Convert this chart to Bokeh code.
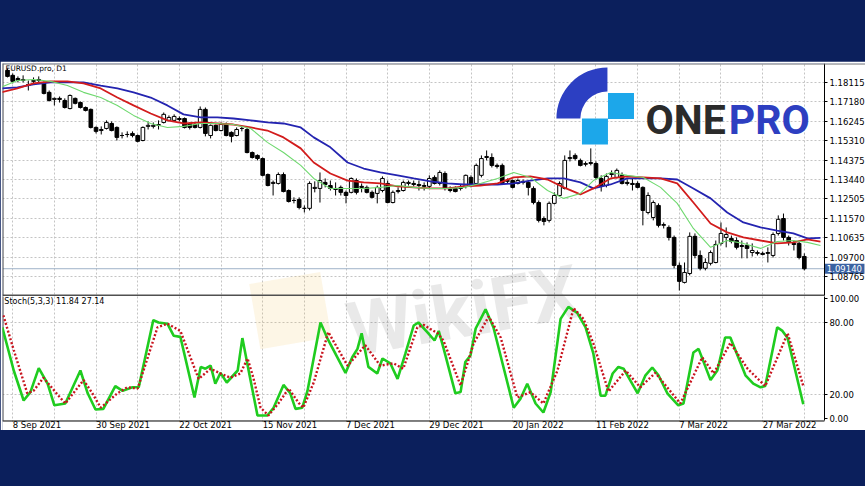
import math
from bokeh.plotting import figure
from bokeh.layouts import column
from bokeh.models import (ColumnDataSource, FixedTicker, PrintfTickFormatter, Span,
                          Label, Range1d, Spacer, LinearAxis, Grid, BoxAnnotation)
from bokeh.core.properties import value
from bokeh.embed import file_html
from bokeh.resources import INLINE

# ---------------- data (EURUSD.pro, D1) ----------------
opens = [1.1870,1.1846,1.1831,1.1821,1.1802,1.1817,1.1826,1.1807,1.1764,1.1730,
         1.1735,1.1725,1.1686,1.1735,1.1715,1.1691,1.1682,1.1595,1.1580,1.1590,
         1.1614,1.1595,1.1556,1.1561,1.1566,1.1556,1.1532,1.1600,1.1600,1.1605,
         1.1619,1.1629,1.1629,1.1638,1.1638,1.1614,1.1609,1.1595,1.1682,1.1556,
         1.1605,1.1580,1.1609,1.1571,1.1556,1.1590,1.1585,1.1474,1.1460,1.1445,
         1.1368,1.1325,1.1325,1.1368,1.1291,1.1243,1.1248,1.1205,1.1205,1.1301,
         1.1301,1.1330,1.1315,1.1301,1.1306,1.1282,1.1282,1.1339,1.1311,1.1306,
         1.1282,1.1277,1.1291,1.1325,1.1233,1.1286,1.1291,1.1325,1.1325,1.1320,
         1.1315,1.1311,1.1354,1.1325,1.1373,1.1296,1.1301,1.1306,1.1311,1.1354,
         1.1325,1.1364,1.1450,1.1450,1.1412,1.1412,1.1335,1.1339,1.1325,1.1335,
         1.1330,1.1301,1.1233,1.1156,1.1147,1.1229,1.1267,1.1301,1.1445,1.1460,
         1.1436,1.1417,1.1421,1.1421,1.1349,1.1315,1.1368,1.1354,1.1364,1.1330,
         1.1325,1.1325,1.1306,1.1185,1.1161,1.1219,1.1123,1.1113,1.1065,1.0930,
         1.0848,1.0891,1.1070,1.0978,1.0916,1.0940,1.0944,1.1036,1.1065,1.1060,
         1.1050,1.1026,1.1026,1.0992,1.0992,1.0988,1.0992,1.0978,1.1084,1.1156,
         1.1065,1.1036,1.1036,1.0973]
highs = [1.1879,1.1855,1.1841,1.1846,1.1821,1.1836,1.1841,1.1817,1.1773,1.1739,
         1.1744,1.1735,1.1754,1.1739,1.1720,1.1696,1.1686,1.1600,1.1600,1.1629,
         1.1624,1.1600,1.1571,1.1576,1.1576,1.1561,1.1600,1.1624,1.1619,1.1629,
         1.1667,1.1653,1.1658,1.1648,1.1643,1.1619,1.1619,1.1696,1.1691,1.1609,
         1.1609,1.1619,1.1619,1.1576,1.1595,1.1600,1.1595,1.1479,1.1465,1.1450,
         1.1373,1.1339,1.1378,1.1378,1.1296,1.1258,1.1258,1.1219,1.1335,1.1335,
         1.1378,1.1349,1.1339,1.1330,1.1315,1.1291,1.1354,1.1349,1.1325,1.1315,
         1.1291,1.1315,1.1359,1.1339,1.1291,1.1306,1.1339,1.1339,1.1339,1.1339,
         1.1330,1.1364,1.1364,1.1388,1.1383,1.1311,1.1311,1.1320,1.1368,1.1364,
         1.1421,1.1460,1.1484,1.1470,1.1421,1.1421,1.1349,1.1344,1.1349,1.1344,
         1.1339,1.1311,1.1243,1.1166,1.1238,1.1282,1.1335,1.1460,1.1484,1.1470,
         1.1445,1.1431,1.1494,1.1431,1.1364,1.1373,1.1388,1.1397,1.1378,1.1344,
         1.1349,1.1335,1.1311,1.1282,1.1243,1.1229,1.1137,1.1123,1.1074,1.0944,
         1.0944,1.1089,1.1084,1.1002,1.0964,1.1002,1.1050,1.1137,1.1113,1.1074,
         1.1065,1.1050,1.1041,1.1036,1.1002,1.0997,1.1017,1.1089,1.1171,1.1180,
         1.1074,1.1050,1.1050,1.0988]
lows = [1.1836,1.1807,1.1812,1.1812,1.1773,1.1802,1.1812,1.1754,1.1720,1.1701,
        1.1715,1.1686,1.1682,1.1706,1.1686,1.1672,1.1590,1.1566,1.1561,1.1585,
        1.1576,1.1532,1.1542,1.1547,1.1547,1.1523,1.1528,1.1585,1.1590,1.1585,
        1.1614,1.1624,1.1624,1.1624,1.1590,1.1585,1.1590,1.1590,1.1552,1.1542,
        1.1576,1.1576,1.1552,1.1523,1.1552,1.1576,1.1470,1.1445,1.1436,1.1359,
        1.1311,1.1267,1.1320,1.1282,1.1233,1.1229,1.1200,1.1185,1.1195,1.1282,
        1.1233,1.1306,1.1291,1.1267,1.1267,1.1229,1.1277,1.1272,1.1282,1.1277,
        1.1253,1.1229,1.1282,1.1229,1.1229,1.1277,1.1286,1.1315,1.1311,1.1291,
        1.1291,1.1301,1.1320,1.1315,1.1291,1.1282,1.1282,1.1291,1.1301,1.1306,
        1.1315,1.1354,1.1436,1.1402,1.1397,1.1320,1.1325,1.1301,1.1320,1.1320,
        1.1267,1.1224,1.1137,1.1123,1.1137,1.1224,1.1262,1.1296,1.1431,1.1436,
        1.1407,1.1407,1.1412,1.1344,1.1286,1.1306,1.1354,1.1349,1.1320,1.1315,
        1.1291,1.1301,1.1123,1.1176,1.1147,1.1113,1.1108,1.1050,1.0916,1.0809,
        1.0843,1.0882,1.0964,1.0906,1.0906,1.0930,1.0940,1.1026,1.1017,1.1036,
        1.1007,1.0964,1.0964,1.0973,1.0978,1.0978,1.0944,1.0968,1.1074,1.1050,
        1.1026,1.1002,1.0959,1.0906]
closes = [1.1841,1.1817,1.1821,1.1826,1.1797,1.1821,1.1821,1.1759,1.1725,1.1735,
          1.1730,1.1691,1.1749,1.1711,1.1691,1.1677,1.1595,1.1576,1.1585,1.1619,
          1.1580,1.1547,1.1556,1.1561,1.1556,1.1528,1.1595,1.1605,1.1605,1.1609,
          1.1658,1.1643,1.1648,1.1633,1.1595,1.1595,1.1595,1.1682,1.1566,1.1605,
          1.1580,1.1609,1.1556,1.1552,1.1585,1.1590,1.1474,1.1450,1.1445,1.1364,
          1.1315,1.1330,1.1368,1.1286,1.1238,1.1243,1.1209,1.1205,1.1325,1.1306,
          1.1339,1.1320,1.1301,1.1296,1.1282,1.1267,1.1349,1.1282,1.1306,1.1282,
          1.1258,1.1306,1.1349,1.1233,1.1282,1.1291,1.1330,1.1330,1.1320,1.1315,
          1.1311,1.1349,1.1325,1.1378,1.1301,1.1291,1.1286,1.1301,1.1364,1.1315,
          1.1412,1.1445,1.1455,1.1412,1.1407,1.1325,1.1339,1.1306,1.1339,1.1330,
          1.1306,1.1233,1.1147,1.1142,1.1229,1.1267,1.1325,1.1436,1.1450,1.1445,
          1.1412,1.1421,1.1426,1.1354,1.1311,1.1359,1.1373,1.1388,1.1325,1.1325,
          1.1320,1.1306,1.1195,1.1267,1.1233,1.1123,1.1127,1.1065,1.0930,1.0853,
          1.0896,1.1070,1.0978,1.0916,1.0944,1.0992,1.1031,1.1084,1.1079,1.1045,
          1.1017,1.1021,1.1012,1.1002,1.0988,1.0983,1.0988,1.1079,1.1152,1.1065,
          1.1041,1.1031,1.0968,1.0914]

# moving averages (bar position, price)
ma_x = [-1.3,1.9,5.0,8.3,11.5,14.6,17.9,21.1,24.2,27.5,30.7,33.8,37.1,40.3,43.4,46.7,
        49.9,53.0,56.3,58.8,62.0,65.3,68.4,71.6,74.9,78.0,81.2,84.5,87.6,90.8,94.1,
        97.2,100.4,103.7,106.8,110.0,112.5,115.8,119.0,122.1,125.4,128.6,131.7,135.0,
        138.2,141.3,144.6,147.8,150.9,153.6,156.1]
ma_blue = [1.1783,1.1788,1.1802,1.1812,1.1812,1.1812,1.1797,1.1783,1.1764,1.1739,1.1701,
           1.1658,1.1643,1.1643,1.1638,1.1629,1.1619,1.1614,1.1595,1.1547,1.1499,1.1426,
           1.1397,1.1378,1.1364,1.1349,1.1335,1.1325,1.1320,1.1320,1.1320,1.1325,1.1339,
           1.1349,1.1349,1.1330,1.1301,1.1320,1.1349,1.1349,1.1349,1.1344,1.1301,1.1253,
           1.1185,1.1137,1.1113,1.1098,1.1084,1.1060,1.1063]
ma_red = [1.1764,1.1783,1.1807,1.1817,1.1817,1.1807,1.1783,1.1739,1.1701,1.1662,1.1629,
          1.1614,1.1619,1.1614,1.1609,1.1595,1.1580,1.1547,1.1494,1.1426,1.1373,1.1339,
          1.1330,1.1325,1.1311,1.1306,1.1301,1.1301,1.1311,1.1315,1.1325,1.1354,1.1359,
          1.1344,1.1306,1.1272,1.1301,1.1349,1.1359,1.1354,1.1349,1.1325,1.1233,1.1132,
          1.1089,1.1065,1.1050,1.1036,1.1041,1.1055,1.1045]
ma_green = [1.1788,1.1821,1.1826,1.1817,1.1797,1.1764,1.1739,1.1701,1.1653,1.1614,1.1595,
            1.1600,1.1614,1.1614,1.1609,1.1590,1.1523,1.1474,1.1412,1.1349,1.1301,1.1301,
            1.1301,1.1306,1.1315,1.1306,1.1301,1.1301,1.1306,1.1325,1.1349,1.1378,1.1354,
            1.1291,1.1253,1.1277,1.1339,1.1378,1.1364,1.1354,1.1306,1.1229,1.1108,1.1017,
            1.1050,1.1036,1.1012,1.1045,1.1050,1.1041,1.1026]

# Stochastic (5,3,3): main (%K) and signal (%D)
k_x = [-1.0,1.2,3.1,4.4,6.0,7.7,9.0,11.1,14.0,15.4,16.9,18.4,20.7,22.1,24.0,25.2,28.0,
       29.0,30.7,31.9,33.2,35.9,37.1,38.0,39.0,39.9,40.9,42.1,44.2,45.1,46.3,48.0,49.9,
       51.1,53.0,54.3,55.3,56.6,57.6,60.1,61.4,64.9,66.2,67.2,68.0,69.3,71.0,72.0,73.5,
       74.9,76.4,78.0,78.9,80.6,82.0,82.8,83.7,86.0,87.0,87.9,88.9,89.9,91.8,93.3,97.2,
       98.5,99.8,101.4,102.9,104.3,106.2,107.7,109.4,111.0,112.5,113.9,114.8,116.2,117.3,
       118.3,121.0,122.5,123.8,125.0,126.7,128.8,129.8,131.7,132.7,135.0,136.3,137.8,
       138.8,141.7,143.2,144.6,145.5,147.8,148.8,149.8,152.8]
k_v = [76,40,15,22,42,29,11,12.5,40,21,7.5,8,27,23,26,26,82,80,79,69,68,17.5,43,41.5,44,
       29,38,30,40,67,40,2.5,2.5,9,28,21,8,9,23,80,67,38,51,58,71,43,37.5,50,46,33,54,
       77.5,80,72,65,73,59,21,22,47,52.5,75,91,76,9,16.5,29,12.5,5,22,83,93,88,76,54,19,
       19,37.5,43,41.5,21,36,42.5,36,21,11,12.5,55,58,32,40,67.5,67.5,36,29,26,27,76,73,
       67,11.84]
d_x = [-0.8,1.2,3.8,5.0,6.9,9.8,11.1,14.6,16.3,17.9,21.1,23.0,25.0,28.8,30.7,33.2,34.6,
       36.7,39.0,40.9,42.8,44.7,46.1,47.2,48.6,50.1,52.0,54.0,55.9,56.8,58.8,61.6,65.3,
       68.7,71.6,74.1,76.0,78.7,79.9,82.6,83.7,87.0,89.5,92.4,94.7,97.9,100.4,102.9,
       105.6,108.7,110.6,112.5,115.4,118.7,121.5,124.4,129.2,133.4,135.6,138.8,142.1,
       145.5,149.8,152.8]
d_v = [86,57,21,23,34,19,12.5,32,21,9,21,26,25,76,79,73,57,33,41.5,37.5,34,37.5,50,34,9,
       2.5,12.5,25,13,9,30,72,44,61,44,46,41.5,76,78,71,65,27.5,62.5,85,67.5,17.5,22,12.5,
       40,92,83,62.5,22.5,40,26,38,12.5,51,37.5,63,41.5,27,71,27.14]

price_ticks = [1.08765, 1.09700, 1.10635, 1.11570, 1.12505, 1.13440,
               1.14375, 1.15310, 1.16245, 1.17180, 1.18115]
last_price = 1.09140
stoch_ticks = [0, 20, 80, 100]
date_ticks = [1, 17, 33, 49, 65, 81, 97, 113, 129, 145]
date_labels = ["8 Sep 2021", "30 Sep 2021", "22 Oct 2021", "15 Nov 2021", "7 Dec 2021",
               "29 Dec 2021", "20 Jan 2022", "11 Feb 2022", "7 Mar 2022", "27 Mar 2022"]
grid_ticks = list(range(1, 154, 8))

# ---------------- layout constants (screen geometry) ----------------
NAVY = "#0b1f5c"
FONT = "DejaVu Sans"
GRID = "#c4c4c4"
X0 = -0.96                 # left edge of the chart
LEFT_LINE = -0.864         # left border line
AXIS_X = 156.87            # bar position of the price/stoch scale line
PRICE_LO, PRICE_HI = 1.07849, 1.19031      # price panel extent
STOCH_LO, STOCH_HI = -2.08, 101.67         # stoch panel extent

p = figure(frame_width=863, frame_height=367,
           x_range=Range1d(X0, 164.75), y_range=Range1d(1.01343, 1.19031),
           x_axis_location=None, y_axis_location=None,
           output_backend="svg", toolbar_location=None,
           min_border_left=2, min_border_right=0, min_border_top=2, min_border_bottom=0)
p.extra_y_ranges = {"stoch": Range1d(-10.0, 295.83)}
p.border_fill_color = "white"
p.background_fill_color = "white"
p.outline_line_color = None

# grids
p.xgrid.ticker = FixedTicker(ticks=grid_ticks)
p.ygrid.ticker = FixedTicker(ticks=price_ticks)
sgrid = Grid(dimension=1, ticker=FixedTicker(ticks=[20, 80]), y_range_name="stoch")
p.add_layout(sgrid)
for g in (p.xgrid[0], p.ygrid[0], sgrid):
    g.grid_line_color = GRID
    g.grid_line_dash = "2 2"
    g.grid_line_width = 1

# covers (underlay) that keep the grid out of the scale and date-label strips
p.add_layout(BoxAnnotation(left=AXIS_X, fill_color="white", fill_alpha=1,
                           line_color=None, level="underlay"))
p.add_layout(BoxAnnotation(top=-2.67, y_range_name="stoch", fill_color="white",
                           fill_alpha=1, line_color=None, level="underlay"))
p.add_layout(Span(location=1.19007, dimension="width", line_color="#6a6a6a", line_width=1))

# watermark
p.rect(x=[54.3], y=[1.07126], width=72, height=66, width_units="screen",
       height_units="screen", angle=0.17, fill_color="#f2c14e", fill_alpha=0.14,
       line_color=None)
p.text(x=[65.3], y=[1.06162], text=["WikiFX"], angle=0.17, text_font=value("Roboto"),
       text_font_style="bold", text_font_size="75px", text_color="#000000",
       text_alpha=0.085, text_baseline="alphabetic", text_align="left")

# frame lines, ending at the scale line
p.segment(x0=[X0], y0=[last_price], x1=[AXIS_X], y1=[last_price],
          line_color="#9fb2c8", line_width=1)
p.segment(x0=[X0], y0=[1.07859], x1=[AXIS_X], y1=[1.07859],
          line_color="#505050", line_width=1.6)
p.segment(x0=[X0], y0=[STOCH_LO], x1=[AXIS_X], y1=[STOCH_LO], y_range_name="stoch",
          line_color="black", line_width=1)
p.segment(x0=[LEFT_LINE], y0=[PRICE_LO], x1=[LEFT_LINE], y1=[PRICE_HI],
          line_color="#3c3c3c", line_width=1)
p.segment(x0=[LEFT_LINE], y0=[STOCH_LO], x1=[LEFT_LINE], y1=[STOCH_HI],
          y_range_name="stoch", line_color="#3c3c3c", line_width=1)

# candles
bull = [c > o for o, c in zip(opens, closes)]
src = ColumnDataSource(dict(
    x=list(range(len(opens))), h=highs, l=lows,
    top=[max(o, c) for o, c in zip(opens, closes)],
    bottom=[min(o, c) for o, c in zip(opens, closes)],
    fill=["white" if b else "black" for b in bull]))
p.segment(x0="x", y0="h", x1="x", y1="l", source=src, line_color="black", line_width=1)
p.vbar(x="x", width=0.7, top="top", bottom="bottom", fill_color="fill",
       line_color="black", line_width=1, source=src)

# moving averages
p.line(ma_x, ma_blue, line_color="#2424b0", line_width=1.8)
p.line(ma_x, ma_red, line_color="#d21c1c", line_width=1.8)
p.line(ma_x, ma_green, line_color="#6fd96f", line_width=1.1)

# stochastic
p.line(k_x, k_v, y_range_name="stoch", line_color="#1fcc1f", line_width=2.6)
p.line(d_x, d_v, y_range_name="stoch", line_color="#c8141e", line_width=2.4,
       line_dash="2 2")

# ONEPRO logo
p.annular_wedge(x=[115.2], y=[1.1638], inner_radius=5.2, outer_radius=9.8,
                start_angle=math.pi / 2, end_angle=math.pi,
                fill_color="#2c3fc2", line_color=None)
p.rect(x=[117.8, 112.8], y=[1.16982, 1.15753], width=26, height=26,
       width_units="screen", height_units="screen", fill_color="#1ca7ea", line_color=None)
p.text(x=[122.5], y=[1.16284], text=["ONE"], text_font=value("Roboto"),
       text_font_style="bold", text_font_size="41px", text_color="#2b2b2b",
       text_baseline="alphabetic", text_align="left")
p.text(x=[138.5], y=[1.16284], text=["PRO"], text_font=value("Roboto"),
       text_font_style="bold", text_font_size="41px", text_color="#2d3fc1",
       text_baseline="alphabetic", text_align="left")

# scales on the right
def style_axis(ax):
    ax.axis_line_color = "black"
    ax.major_tick_line_color = "black"
    ax.major_tick_out = 3
    ax.major_tick_in = 0
    ax.minor_tick_line_color = None
    ax.major_label_standoff = 2
    ax.major_label_text_font = FONT
    ax.major_label_text_font_size = "8.5px"
    ax.major_label_text_color = "black"

ax_p = LinearAxis(ticker=FixedTicker(ticks=price_ticks),
                  formatter=PrintfTickFormatter(format="%.5f"),
                  fixed_location=AXIS_X, bounds=(PRICE_LO, PRICE_HI))
ax_s = LinearAxis(y_range_name="stoch", ticker=FixedTicker(ticks=stoch_ticks),
                  formatter=PrintfTickFormatter(format="%.2f"),
                  fixed_location=AXIS_X, bounds=(STOCH_LO, STOCH_HI))
style_axis(ax_p)
style_axis(ax_s)
p.add_layout(ax_p, "right")
p.add_layout(ax_s, "right")

# current price marker on the scale
p.rect(x=[160.71], y=[last_price], width=40, height=10, width_units="screen",
       height_units="screen", fill_color="#3a62a2", line_color=None)
p.text(x=[AXIS_X + 0.45], y=[last_price], text=["%.5f" % last_price], text_font=value(FONT),
       text_font_size="8.5px", text_color="white", text_baseline="middle",
       text_align="left")

# date labels, left-aligned on their grid line
p.text(x=date_ticks, y=[-5.4] * len(date_ticks), text=date_labels, y_range_name="stoch",
       text_font=value(FONT), text_font_size="8.5px", text_color="black",
       text_baseline="middle", text_align="left")

# panel captions
p.add_layout(Label(x=-0.4, y=1.1899, text="EURUSD.pro, D1", text_font=FONT,
                   text_font_size="7.5px", text_baseline="top", text_color="black"))
p.add_layout(Label(x=-0.6, y=100.9, y_range_name="stoch", text="Stoch(5,3,3) 11.84 27.14",
                   text_font=FONT, text_font_size="8px", text_baseline="top",
                   text_color="black"))

layout = column(Spacer(width=865, height=61), p)

html = file_html(layout, INLINE, title="EURUSD.pro D1")
html = html.replace("</head>", "<style>html,body{margin:0;padding:0;background:%s;"
                    "overflow:hidden}</style></head>" % NAVY, 1)
open("out.html", "w").write(html)
